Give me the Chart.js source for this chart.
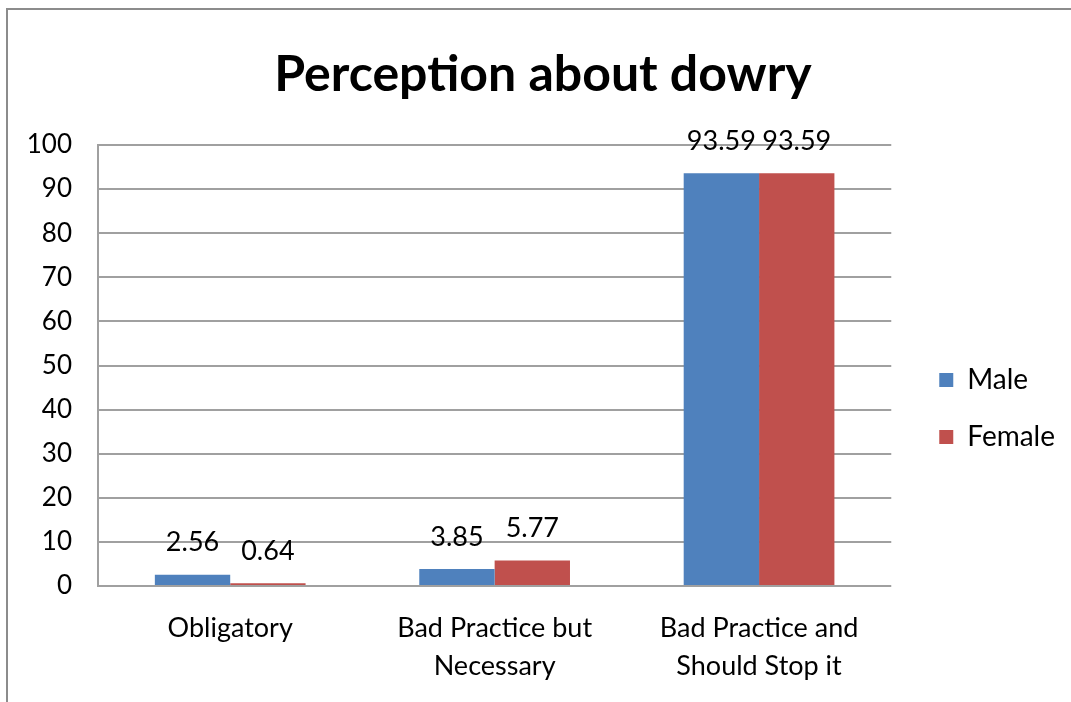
<!DOCTYPE html>
<html>
<head>
<meta charset="utf-8">
<script src="https://cdn.jsdelivr.net/npm/chart.js@4/dist/chart.umd.min.js"></script>
<style>
  html, body { margin: 0; padding: 0; background: #fff; overflow: hidden; }
  #wrap { position: relative; width: 1071px; height: 702px; }
  #frame { position: absolute; left: 6px; top: 8px; width: 2000px; height: 2000px;
           border-left: 2px solid #8c8c8c; border-top: 2px solid #8c8c8c; pointer-events: none; }
  canvas { position: absolute; left: 0; top: 0; }
</style>
</head>
<body>
<div id="wrap">
  <canvas id="c" width="1071" height="702"></canvas>
  <div id="frame"></div>
</div>
<script>
const chartTitle = 'Perception about dowry';
const categories = ['Obligatory', ['Bad Practice but', 'Necessary'], ['Bad Practice and', 'Should Stop it']];
const seriesNames = ['Male', 'Female'];
const maleValues = [2.56, 3.85, 93.59];
const femaleValues = [0.64, 5.77, 93.59];
const yTicks = [0, 10, 20, 30, 40, 50, 60, 70, 80, 90, 100];

const FONT = 'Lato';

const dataLabels = {
  id: 'dataLabels',
  afterDatasetsDraw(chart) {
    const ctx = chart.ctx;
    ctx.save();
    ctx.font = '27px ' + FONT;
    ctx.fillStyle = '#000';
    ctx.textAlign = 'center';
    ctx.textBaseline = 'middle';
    chart.data.datasets.forEach((ds, i) => {
      chart.getDatasetMeta(i).data.forEach((el, j) => {
        ctx.fillText(ds.data[j].toFixed(2), el.x, el.y - 32);
      });
    });
    ctx.restore();
  }
};

const titleShift = {
  id: 'titleShift',
  afterLayout(chart) {
    if (chart.titleBlock) { chart.titleBlock.left = 0; chart.titleBlock.right = 1086; }
  }
};

new Chart(document.getElementById('c'), {
  type: 'bar',
  data: {
    labels: categories,
    datasets: [
      { label: seriesNames[0], data: maleValues, backgroundColor: '#4F81BD' },
      { label: seriesNames[1], data: femaleValues, backgroundColor: '#C0504D' }
    ]
  },
  options: {
    responsive: false,
    animation: false,
    devicePixelRatio: 1,
    layout: { padding: { left: 0, right: 6, top: 0, bottom: 0 } },
    datasets: { bar: { categoryPercentage: 0.57, barPercentage: 1.0 } },
    plugins: {
      title: {
        display: true, text: chartTitle, color: '#000',
        font: { family: FONT, size: 50, weight: 'bold', lineHeight: 1.2 },
        padding: { top: 45, bottom: 40 }
      },
      legend: {
        position: 'right',
        title: { display: true, text: ' ', font: { size: 10, lineHeight: 1 }, padding: { top: 0, bottom: 105 } },
        labels: {
          boxWidth: 14, boxHeight: 14, padding: 29, color: '#000',
          font: { family: FONT, size: 28 }
        }
      },
      tooltip: { enabled: false }
    },
    scales: {
      x: {
        grid: { display: false, drawTicks: false },
        border: { display: false },
        ticks: { color: '#000', padding: 23, font: { family: FONT, size: 27, lineHeight: 1.42 }, maxRotation: 0, autoSkip: false },
        afterFit(s) { s.height = 116; }
      },
      y: {
        min: 0, max: 100,
        afterBuildTicks(s) { s.ticks = yTicks.map(v => ({ value: v })); },
        grid: { color: '#a0a0a0', lineWidth: 2, drawTicks: false },
        border: { display: true, color: '#a0a0a0', width: 2 },
        ticks: { color: '#000', padding: 26, font: { family: FONT, size: 26 } },
        afterFit(s) { s.width = 98; }
      },
      y2: {
        position: 'right', display: true,
        grid: { display: false, drawTicks: false },
        border: { display: false },
        ticks: { display: false },
        afterFit(s) { s.width = 19; }
      }
    }
  },
  plugins: [dataLabels, titleShift]
});
</script>
</body>
</html>
